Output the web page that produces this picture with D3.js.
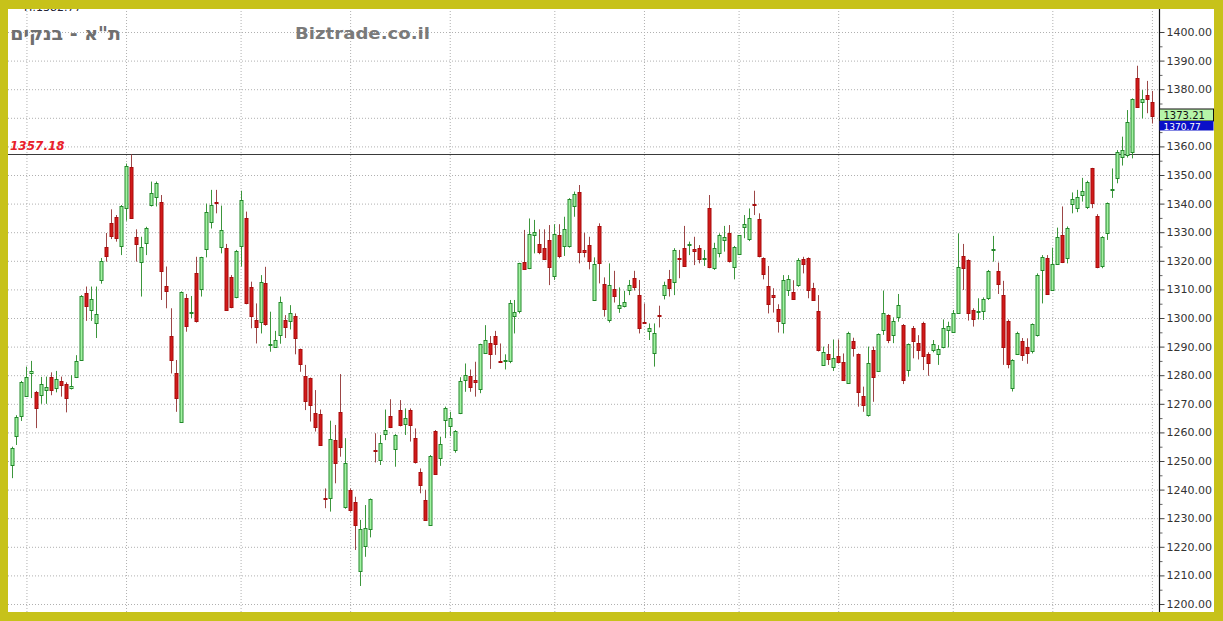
<!DOCTYPE html>
<html><head><meta charset="utf-8">
<script src="https://cdn.jsdelivr.net/npm/d3@7/dist/d3.min.js"></script>
<style>html,body{margin:0;padding:0;background:#fff;}svg{display:block;}</style>
</head><body>
<svg id="c" width="1223" height="621"></svg>
<script>
const opens = [1248.6,1259,1265.7,1273,1280.5,1274,1273,1275,1279.5,1275.5,
1278,1277,1275.5,1279.5,1285.3,1308.7,1302.6,1298.3,1313.3,1325,
1333.3,1335.3,1325,1338.4,1352.9,1328.4,1319.7,1326.1,1339.3,1342.4,
1340.4,1311.3,1293.8,1280.9,1263.7,1307.1,1301.5,1315.6,1310,1324.4,
1333.7,1340.6,1324.7,1324.4,1314.4,1307.2,1325,1334.8,1311,1299.3,
1298.7,1312.1,1290.4,1290,1293.8,1299.3,1298.7,1300.7,1289,1279.7,
1278.9,1266.7,1266.3,1237.2,1236.9,1257.3,1267,1233.8,1239.9,1235.8,
1211.3,1220,1226.1,1253.8,1250.1,1259.4,1265.8,1254.2,1267.8,1262.8,
1267.8,1257.9,1246,1236.4,1227.9,1260.6,1250.9,1264.3,1262.2,1253.8,
1266.7,1278.3,1279.7,1278.3,1275.2,1287.9,1291.4,1293.8,1285,1284.9,
1284.8,1300.5,1302.2,1319.7,1317.4,1329,1325.9,1324.6,1327.3,1314.5,
1329,1325.2,1324.9,1338.9,1344.2,1323.8,1325.5,1306.1,1332.2,1311.8,
1299.1,1310,1303.6,1304,1309.6,1313.9,1308,1298.7,1295.2,1287.9,
1301.2,1308,1313.6,1312.7,1321.1,1324.4,1325.3,1324,1324.6,1320.5,
1338.3,1317.4,1322.6,1327.3,1329.6,1317.7,1322.4,1331.7,1327.3,1339.7,
1334.6,1320.9,1311.2,1308,1303,1298.1,1309.8,1309,1311.5,1320.5,
1320.9,1310.6,1302.4,1283.6,1287.3,1282.6,1286.7,1284.7,1277.4,1292,
1287.4,1272.7,1265.8,1288.8,1281.5,1295.6,1301,1294.1,1300.2,1297.4,
1281.7,1296.6,1291.1,1298.4,1287.3,1288.6,1287.1,1289.7,1295.8,1295.2,
1301.9,1321.7,1320.3,1302.8,1302,1302.2,1306.9,1323.8,1316.4,1308,
1299,1275.4,1287.6,1292,1290,1288.2,1294,1316.8,1321.1,1309.8,
1319.1,1329,1321.1,1339.7,1338.7,1343,1338.9,1352.3,1335.7,1318.3,
1329.6,1344.6,1349.2,1356.4,1357.2,1357.9,1384,1375.4,1378,1375.6];
const highs = [1255,1266,1278,1283,1285,1274.5,1279.4,1279.5,1281,1281.5,
1279.5,1277.5,1280,1287,1308,1311,1311,1311,1321,1329.7,
1338,1336,1339.5,1354,1357.2,1331,1328.4,1331.9,1347.7,1347.7,
1343,1318,1303.4,1285.3,1309.3,1308.4,1307.7,1321.4,1321.4,1340,
1344.8,1344.8,1339.3,1325.9,1315,1323.8,1344.5,1337.2,1312.7,1305.1,
1315,1317.9,1302.2,1295.5,1307.5,1301,1304.5,1301.6,1289.3,1283.6,
1279.2,1274.8,1268,1240.4,1264.1,1262.6,1280.4,1258,1240.4,1237.5,
1229.4,1234.6,1236.9,1259.7,1259.1,1268,1271.6,1259.4,1271.3,1268.4,
1268.4,1261.4,1247.4,1239.9,1252.1,1260.8,1258.5,1269,1267.2,1260.8,
1279.3,1284.1,1282,1284.7,1291,1297.5,1293.7,1295.5,1291.1,1287.3,
1306.3,1306.3,1319.3,1330.8,1334.8,1334.3,1331,1331,1332.5,1332.8,
1332.8,1335.4,1341.9,1344.2,1346.5,1329.8,1328.4,1321.2,1333.1,1314.2,
1319.1,1316.5,1310.7,1309.5,1313.3,1316.5,1313.3,1305.1,1298.1,1298.1,
1304.3,1312.7,1316.8,1324.4,1323.8,1332.2,1326.7,1328.4,1325.5,1323.8,
1343,1326.3,1329.6,1332.2,1332.5,1325.2,1329,1336,1338.3,1344.5,
1336.6,1321.2,1318.2,1310.4,1304.8,1315,1315,1313.2,1320.9,1321.4,
1321.2,1312.3,1308,1290,1290.9,1292.5,1292.5,1287.6,1295.2,1293.1,
1287.6,1276,1290,1290,1294.6,1309.6,1301.3,1300.2,1308.4,1297.9,
1291.1,1297.2,1294,1298.7,1288,1292.3,1290.5,1299.5,1298.7,1302.8,
1329.6,1325.9,1320.5,1303.4,1306.9,1307.2,1316.8,1328.7,1319.4,1313,
1299.5,1285.6,1295.2,1293,1292.9,1298.1,1315.6,1322,1322,1324.6,
1331.6,1339,1332,1343.9,1344.8,1349,1348,1352.5,1336.3,1328.6,
1340.4,1352.3,1358.7,1363.4,1372.7,1376.8,1388.2,1379.7,1382.9,1379.4];
const lows = [1244,1255.6,1264,1272.5,1272,1261.5,1270,1270,1273,1274,
1272.5,1267,1275,1279,1285,1299,1299,1293,1312,1319.7,
1327.6,1326.7,1322,1334,1335,1319.7,1307.5,1322,1339,1339,
1306.3,1303.4,1280.6,1267.2,1263.5,1295.2,1300,1298.4,1307.5,1321.2,
1331.3,1336.6,1322.6,1302.6,1303.4,1306.9,1318,1304.8,1296.4,1291.1,
1294.6,1297.3,1288.2,1289.7,1291,1293,1296,1287.3,1281.2,1267.8,
1263.8,1260.3,1255.3,1233.5,1232.3,1242.2,1251.5,1233.3,1232.3,1218.9,
1206.3,1216.5,1223.3,1249.5,1248.6,1257.3,1261.5,1248,1262.1,1259.1,
1256.8,1249.1,1238.7,1229.1,1227.6,1245.1,1248.3,1258,1258.7,1252.9,
1266.4,1274.2,1274.2,1272.5,1273.7,1287.7,1282.2,1287.1,1284.4,1282,
1284.2,1294.6,1301.6,1316.8,1317.1,1322.6,1322.3,1320.6,1311.5,1313.3,
1320.9,1321.7,1324.6,1335.4,1319.1,1321.2,1317,1306,1312.1,1300.5,
1298.4,1305.4,1301.8,1303.7,1308,1309.6,1294.6,1298,1292.3,1283,
1296.7,1306.5,1307.5,1308,1313.9,1318,1322,1318.5,1319.1,1318.2,
1317.4,1316.8,1321.2,1323.2,1319.4,1313.5,1322.1,1327.9,1326.9,1336,
1321.2,1313.5,1301.6,1301.9,1294.9,1294.6,1307.7,1306.3,1310.9,1315.6,
1306.9,1306,1288.3,1283.3,1283.6,1281.5,1284.1,1278.2,1277.1,1286.5,
1269,1267.2,1265.5,1270.7,1281.2,1294.1,1291.2,1291.2,1298.7,1276.9,
1279.5,1285.9,1285.5,1281.8,1279.8,1288,1283.6,1289.4,1289.7,1294.9,
1301.6,1309.8,1299.1,1297,1299.5,1299.3,1306.3,1319.7,1308.4,1283.6,
1282.4,1274.3,1287.1,1285,1284,1287.6,1293.5,1305.1,1308.3,1309.5,
1318.8,1319.2,1319.1,1336.6,1337,1340.7,1338.1,1338.4,1317.4,1317.4,
1327.3,1342,1347.1,1353.3,1356.1,1355.8,1373.5,1369.8,1371.6,1368];
const closes = [1254.5,1265.5,1277.7,1279.5,1281.3,1268.4,1277,1276,1275,1278.7,
1276.6,1272,1276.3,1285,1307.7,1304,1306.6,1301.4,1320,1321.7,
1328.7,1328,1339,1353,1335.2,1326.1,1324.9,1331.3,1343.6,1347.3,
1316.4,1309.6,1285.5,1272.3,1309,1297.3,1302,1298.7,1321.2,1337.2,
1339.5,1340.2,1330.8,1302.8,1304,1323.4,1341.2,1305.1,1300.8,1296.7,
1312.7,1297.6,1290.8,1292.3,1305.5,1296.7,1301.6,1293.1,1283.6,1271.1,
1269.4,1261.8,1255.6,1236.7,1257.6,1249.2,1254.8,1249.2,1232.9,1227.6,
1226.1,1226.4,1236.6,1253.3,1256.2,1260.8,1261.8,1259.1,1262.4,1264.9,
1262.4,1249.4,1241.6,1229.4,1251.9,1245.5,1255.8,1268.4,1264.9,1260.6,
1278,1280.1,1276,1277.5,1290.8,1292.3,1287.7,1291.1,1284.6,1285.3,
1305.1,1302,1319.1,1317.1,1329.3,1330,1323.2,1320.9,1317.7,1329.3,
1321.5,1331,1341.5,1343.2,1323.2,1323.2,1320,1318.8,1319.4,1303.1,
1311.5,1307.5,1304.5,1305.5,1311.5,1310.7,1296.4,1298.3,1296.4,1294.9,
1300.8,1311.5,1310.4,1323.8,1320.7,1318,1325.8,1323.2,1320.6,1321,
1317.7,1324.4,1329,1328.4,1319.7,1324.7,1329,1332.9,1334.8,1339.3,
1321.7,1315.4,1304.9,1307.2,1298.7,1313.3,1313.5,1306.5,1320.3,1318.9,
1309.8,1306.3,1288.6,1288,1285.5,1285.9,1284.7,1278.5,1294.9,1289.7,
1274.2,1269.6,1284.1,1279.5,1294.3,1301.6,1292.1,1299.1,1304.5,1278,
1290.8,1292.1,1288.6,1286.7,1284.2,1290.8,1289,1296.4,1297.3,1301.9,
1318,1317.4,1301.9,1299.5,1302.4,1306.5,1316.4,1324.3,1311.8,1289.7,
1283.9,1285.3,1294.9,1287,1288,1297.8,1315,1321.5,1308.6,1318.8,
1328.4,1319.5,1331.6,1341.5,1342.4,1344.4,1347.7,1340.1,1317.7,1328.4,
1340.1,1345,1358.2,1358.7,1368.6,1376.5,1373.9,1376.5,1376.6,1370.77];
const monthStarts = [4, 24, 47, 69, 89, 110, 128, 147, 167, 190, 210, 230];
const yTicks = d3.range(1200, 1401, 10);
const yLabelTicks = yTicks.filter(v => v !== 1370);
const minorTicks = d3.range(1205, 1400, 10);
const refLevel = 1357.18;
const lastLabels = [{v: 1373.21, fill: "#b6f4a8", text: "#111"}, {v: 1370.77, fill: "#0a10c8", text: "#fff"}];
const title = "ת\"א - בנקים";
const site = "Biztrade.co.il";

const svg = d3.select("#c");
const W = 1223, H = 621;
const plot = {l: 8, r: 1159.5, t: 9, b: 612};
const n = opens.length;
const x = d3.scaleLinear().domain([1, n]).range([11.5, 11.5 + (n - 1) * 4.98]);
const y = d3.scaleLinear().domain([1200, 1400]).range([604, 32]);

svg.append("rect").attr("width", W).attr("height", H).attr("fill", "#fff");

// header text, mostly hidden under the top border
svg.append("text").attr("x", 24).attr("y", 11).attr("font-family", "DejaVu Sans").attr("font-size", 11)
  .attr("fill", "#223").text("H:1382.77");

const defs = svg.append("defs");
defs.append("clipPath").attr("id", "pc").append("rect")
  .attr("x", plot.l).attr("y", plot.t).attr("width", plot.r - plot.l).attr("height", plot.b - plot.t);

// horizontal grid
const gy = svg.append("g").attr("transform", `translate(${plot.l},0)`)
  .call(d3.axisLeft(y).tickValues(yTicks).tickSize(-(plot.r - plot.l)).tickFormat(""));
gy.select(".domain").remove();
gy.selectAll("line").attr("stroke", "#b0b0b0").attr("stroke-dasharray", "1,2");

// vertical grid
const gx = svg.append("g").attr("transform", `translate(0,${plot.b})`)
  .call(d3.axisBottom(x).tickValues(monthStarts).tickSize(-(plot.b - plot.t)).tickFormat(""));
gx.select(".domain").remove();
gx.selectAll("line").attr("stroke", "#b0b0b0").attr("stroke-dasharray", "1,2");

// reference line
svg.append("line").attr("x1", plot.l).attr("x2", plot.r).attr("y1", Math.round(y(refLevel)) + 0.5)
  .attr("y2", Math.round(y(refLevel)) + 0.5).attr("stroke", "#3a3a3a").attr("stroke-width", 1);
svg.append("text").attr("x", 10).attr("y", 150).attr("font-family", "DejaVu Sans").attr("font-size", 12)
  .attr("font-weight", "bold").attr("font-style", "italic").attr("fill", "#e8202a").text(refLevel.toFixed(2));

// candles
const data = d3.range(n).map(i => ({i: i + 1, o: opens[i], h: highs[i], l: lows[i], c: closes[i]}));
const cg = svg.append("g").attr("clip-path", "url(#pc)");
cg.selectAll("line.w").data(data).join("line").attr("class", "w")
  .attr("x1", d => Math.round(x(d.i)) + 0.5).attr("x2", d => Math.round(x(d.i)) + 0.5)
  .attr("y1", d => y(d.h)).attr("y2", d => y(d.l))
  .attr("stroke", d => d.c >= d.o ? "#3c963c" : "#9c4646").attr("stroke-width", 1);
cg.selectAll("rect.b").data(data).join("rect").attr("class", "b")
  .attr("x", d => Math.round(x(d.i)) - 1)
  .attr("y", d => Math.round(y(Math.max(d.o, d.c))) + 0.5)
  .attr("width", 3)
  .attr("height", d => Math.max(1, Math.round(Math.abs(y(d.o) - y(d.c)))))
  .attr("fill", d => d.c >= d.o ? "#a2f2a2" : "#d21a1a")
  .attr("stroke", d => d.c >= d.o ? "#22882a" : "#a80c0c").attr("stroke-width", 1);

// right axis (major ticks, labels; 1370 label sits under the last-value boxes)
const ax = svg.append("g").attr("transform", `translate(${plot.r},0)`)
  .call(d3.axisRight(y).tickValues(yTicks).tickSize(5).tickPadding(2)
    .tickFormat(v => yLabelTicks.includes(v) ? d3.format(".2f")(v) : ""));
ax.select(".domain").remove();
ax.selectAll("line").attr("stroke", "#444");
ax.selectAll("text").attr("font-family", "DejaVu Sans").attr("font-size", 11).attr("fill", "#333");
const ax2 = svg.append("g").attr("transform", `translate(${plot.r},0)`)
  .call(d3.axisRight(y).tickValues(minorTicks).tickSize(3).tickFormat(""));
ax2.select(".domain").remove();
ax2.selectAll("line").attr("stroke", "#666");
svg.append("line").attr("x1", plot.r).attr("x2", plot.r).attr("y1", plot.t).attr("y2", plot.b)
  .attr("stroke", "#111").attr("stroke-width", 1.2);

// last-value boxes
const boxes = [{y0: 109, h: 12, fs: 10, base: 119.3}, {y0: 121, h: 9.5, fs: 9, base: 130.2}];
lastLabels.forEach((lb, k) => {
  const b = boxes[k];
  svg.append("rect").attr("x", plot.r).attr("y", b.y0).attr("width", 54).attr("height", b.h)
    .attr("fill", lb.fill).attr("stroke", "#111").attr("stroke-width", k === 0 ? 1 : 0);
  svg.append("text").attr("x", plot.r + 4).attr("y", b.base)
    .attr("font-family", "DejaVu Sans").attr("font-size", b.fs).attr("fill", lb.text).text(lb.v.toFixed(2));
});

// titles
svg.append("text").attr("x", 121).attr("y", 40).attr("text-anchor", "end")
  .attr("font-family", "DejaVu Sans").attr("font-size", 19).attr("font-weight", "bold")
  .attr("fill", "#6f6f6f").text(title);
svg.append("text").attr("x", 295).attr("y", 39).attr("textLength", 135).attr("lengthAdjust", "spacingAndGlyphs")
  .attr("font-family", "DejaVu Sans").attr("font-size", 16.5).attr("font-weight", "bold")
  .attr("fill", "#7a7a7a").text(site);

// frame
const fc = "#c7c21a";
svg.append("rect").attr("x", 0).attr("y", 0).attr("width", W).attr("height", plot.t).attr("fill", fc);
svg.append("rect").attr("x", 0).attr("y", plot.b).attr("width", W).attr("height", H - plot.b).attr("fill", fc);
svg.append("rect").attr("x", 0).attr("y", 0).attr("width", plot.l).attr("height", H).attr("fill", fc);
svg.append("rect").attr("x", 1214).attr("y", 0).attr("width", W - 1214).attr("height", H).attr("fill", fc);
</script>
</body></html>
